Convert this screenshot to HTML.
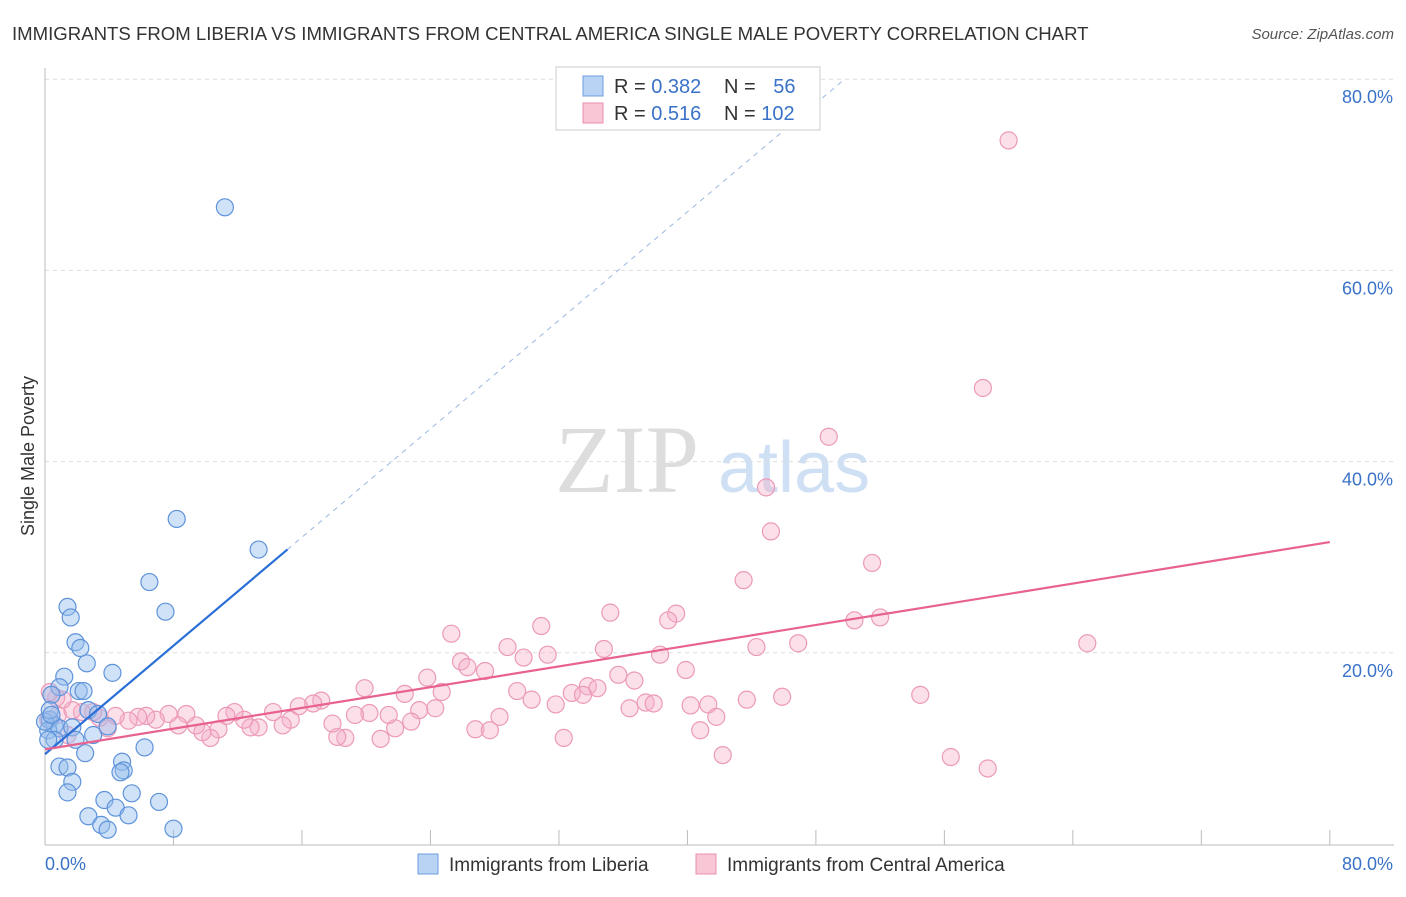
<!DOCTYPE html>
<html><head><meta charset="utf-8"><style>
body{margin:0;background:#fff;font-family:"Liberation Sans",sans-serif}
</style></head><body>
<svg id="c" width="1406" height="892" xmlns="http://www.w3.org/2000/svg" style="font-family:'Liberation Sans',sans-serif">
<text x="12" y="40" font-size="18.6" fill="#333">IMMIGRANTS FROM LIBERIA VS IMMIGRANTS FROM CENTRAL AMERICA SINGLE MALE POVERTY CORRELATION CHART</text>
<text x="1394" y="39" font-size="15" fill="#555" font-style="italic" text-anchor="end">Source: ZipAtlas.com</text>
<text x="34" y="456" font-size="18" fill="#333" transform="rotate(-90 34 456)" text-anchor="middle">Single Male Poverty</text>
<text x="555" y="492" font-size="96" fill="#ddd" font-family="Liberation Serif,serif">ZIP</text>
<text x="718" y="492" font-size="72" fill="#cfe0f5">atlas</text>
<g id="grid"></g><g id="pts"></g><g id="lines"></g>
<g>
<rect x="556" y="67" width="264" height="63" fill="#fff" stroke="#ccc"/>
<rect x="583" y="76" width="20" height="20" fill="#b8d3f3" stroke="#6d9de0"/>
<rect x="583" y="103" width="20" height="20" fill="#f9c6d6" stroke="#ea8eb0"/>
<text x="614" y="93" font-size="20" fill="#333">R = <tspan fill="#3a72c8">0.382</tspan></text>
<text x="724" y="93" font-size="20" fill="#333">N = <tspan fill="#3a72c8" dx="12">56</tspan></text>
<text x="614" y="120" font-size="20" fill="#333">R = <tspan fill="#3a72c8">0.516</tspan></text>
<text x="724" y="120" font-size="20" fill="#333">N = <tspan fill="#3a72c8">102</tspan></text>
</g>
<g>
<rect x="418" y="854" width="20" height="20" fill="#b8d3f3" stroke="#6d9de0"/>
<text x="449" y="871" font-size="19" fill="#333">Immigrants from Liberia</text>
<rect x="696" y="854" width="20" height="20" fill="#f9c6d6" stroke="#ea8eb0"/>
<text x="727" y="871" font-size="19" fill="#333">Immigrants from Central America</text>
</g>
</svg>
<script>
const blueX=[11.2,8.2,13.3,6.5,7.5,1.4,1.6,1.9,2.2,2.6,4.2,1.2,0.9,2.1,2.4,0.4,2.7,3.3,0.3,0.6,0.2,0.9,1.7,3.9,3.0,0.6,1.9,6.2,2.5,4.8,4.9,4.7,0.9,1.4,1.7,1.4,5.4,7.1,3.7,4.4,2.7,5.2,3.5,3.9,8.0,0.0,0.3,0.2,0.4];
const blueY=[66.6,34.0,30.8,27.4,24.3,24.8,23.7,21.1,20.5,18.9,17.9,17.5,16.4,16.0,16.0,15.6,14.0,13.6,13.0,12.4,11.9,12.1,12.2,12.3,11.4,10.9,10.9,10.1,9.5,8.6,7.7,7.5,8.1,8.0,6.5,5.4,5.3,4.4,4.6,3.8,2.9,3.0,2.0,1.5,1.6,12.8,14.0,10.9,13.5];
const pinkX=[60.0,58.4,48.8,44.9,45.2,51.5,43.5,64.9,54.5,56.4,58.7,35.2,39.3,38.8,50.4,52.0,30.9,25.3,28.8,34.8,44.3,46.9,31.3,29.8,38.3,25.9,26.3,27.4,39.9,35.7,36.7,23.8,19.9,22.4,24.7,29.4,33.8,34.4,32.8,33.5,30.3,31.8,37.4,37.9,36.4,40.2,41.3,43.7,45.9,41.8,40.8,42.2,32.3,28.3,26.8,27.7,24.3,23.3,22.8,21.8,20.9,21.4,20.2,19.3,18.7,18.2,17.9,17.2,16.7,15.8,15.3,14.8,14.2,13.3,12.8,12.4,11.8,11.3,10.8,10.3,9.8,9.4,8.8,8.3,7.7,6.9,6.3,5.8,5.2,4.4,3.9,3.4,3.0,2.3,1.7,1.1,0.7,0.3,0.2,1.4,0.8];
const pinkY=[73.6,47.7,42.6,37.3,32.7,29.4,27.6,21.0,15.6,9.1,7.9,24.2,24.1,23.4,23.4,23.7,22.8,22.0,20.6,20.4,20.6,21.0,19.8,19.5,19.8,19.1,18.5,18.1,18.2,17.7,17.1,17.4,16.3,15.7,15.9,16.0,16.5,16.3,15.8,15.6,15.1,14.6,14.8,14.7,14.2,14.5,14.6,15.1,15.4,13.3,11.9,9.3,11.1,13.3,12.0,11.9,14.2,14.0,12.8,12.1,11.0,13.5,13.7,13.5,11.1,11.2,12.6,15.0,14.7,14.4,13.0,12.4,13.8,12.2,12.2,13.0,13.8,13.4,12.0,11.1,11.7,12.4,13.6,12.4,13.6,13.0,13.4,13.3,12.9,13.4,12.1,13.2,13.8,13.8,14.0,15.1,15.3,15.9,13.0,11.4,13.5];
const blueTrend=[9.4,1.418];
const pinkTrend=[9.9,0.271];
const yTicks=[20,40,60,80];
const xTicks=[0,8,16,24,32,40,48,56,64,72,80];
const NS='http://www.w3.org/2000/svg';
const X=v=>45+v*16.06, Y=v=>844-v*9.56;
function mk(tag,attrs,parent){const e=document.createElementNS(NS,tag);for(const k in attrs)e.setAttribute(k,attrs[k]);document.getElementById(parent).appendChild(e);return e;}
yTicks.forEach(t=>{
 const l=mk('line',{x1:45,x2:1394,y1:Y(t),y2:Y(t),stroke:'#ddd','stroke-dasharray':'4,4'},'grid');
 
 
 const tx=mk('text',{x:1393,y:Y(t)+24,'font-size':18,fill:'#3a72c8','text-anchor':'end'},'grid');tx.textContent=t.toFixed(1)+'%';
 
 
});
mk('line',{x1:45,x2:45,y1:68,y2:845,stroke:'#bbb'},'grid');
mk('line',{x1:45,x2:1394,y1:845,y2:845,stroke:'#bbb'},'grid');
xTicks.forEach(t=>{const l=mk('line',{x1:X(t),x2:X(t),y1:830,y2:845,stroke:'#bbb'},'grid');
 
 });
let a=mk('text',{x:45,y:870,'font-size':18,fill:'#3a72c8'},'grid');a.textContent=xTicks[0].toFixed(1)+'%';


a=mk('text',{x:1393,y:870,'font-size':18,fill:'#3a72c8','text-anchor':'end'},'grid');a.textContent=xTicks[xTicks.length-1].toFixed(1)+'%';


pinkX.forEach((x,i)=>{const c=mk('circle',{cx:X(x),cy:Y(pinkY[i]),r:8.5,fill:'rgba(246,176,200,0.4)',stroke:'#ec9ab8','stroke-width':1.2},'pts');
 
 });
blueX.forEach((x,i)=>{const c=mk('circle',{cx:X(x),cy:Y(blueY[i]),r:8.5,fill:'rgba(150,190,238,0.45)',stroke:'#5e93da','stroke-width':1.2},'pts');
 
 });
const bEnd=15.1, bDashEnd=(80-blueTrend[0])/blueTrend[1];
let l=mk('line',{x1:X(bEnd),y1:Y(blueTrend[0]+blueTrend[1]*bEnd),x2:X(bDashEnd),y2:Y(80),stroke:'#9ab8e0','stroke-dasharray':'5,5','stroke-width':1},'lines');


l=mk('line',{x1:X(0),y1:Y(blueTrend[0]),x2:X(bEnd),y2:Y(blueTrend[0]+blueTrend[1]*bEnd),stroke:'#2a6fd6','stroke-width':2.2},'lines');


l=mk('line',{x1:X(0),y1:Y(pinkTrend[0]),x2:X(80),y2:Y(pinkTrend[0]+pinkTrend[1]*80),stroke:'#e8628f','stroke-width':2.2},'lines');


</script>
</body></html>
